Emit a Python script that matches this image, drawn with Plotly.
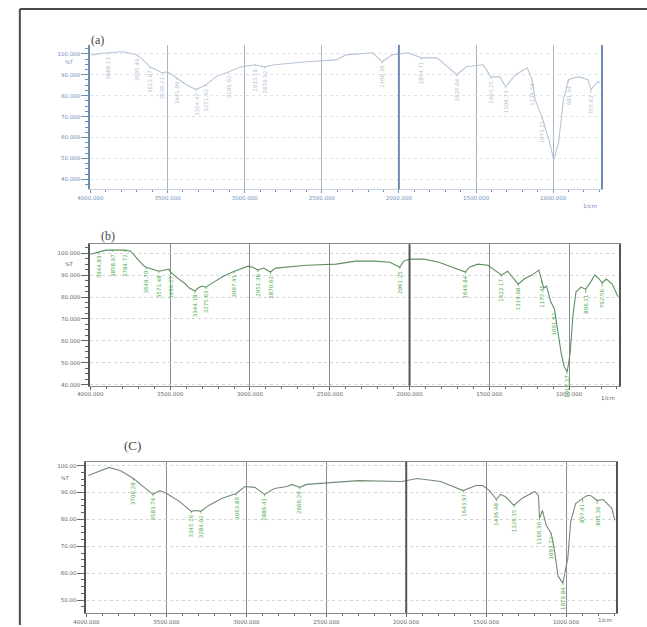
import plotly.graph_objects as go

# ---------------- data ----------------
wn_a = [3994, 3886, 3784, 3695, 3613, 3536, 3498, 3441, 3378, 3314, 3251, 3187, 3105, 3022, 2933, 2870,
        2806, 2597, 2406, 2343, 2171, 2108, 2044, 1943, 1854, 1752, 1625, 1562, 1454, 1403, 1346, 1308,
        1244, 1168, 1136, 1117, 1073, 1028, 996, 965, 933, 901, 863, 831, 774, 755, 711, 692]
t_a = [99.5, 100.5, 101.0, 99.5, 93.8, 91.0, 91.4, 88.6, 85.2, 82.9, 85.2, 89.0, 91.4, 93.8, 94.8, 93.8,
       94.8, 96.2, 97.1, 99.5, 100.5, 96.2, 99.5, 100.5, 98.1, 98.1, 90.0, 93.8, 94.8, 89.0, 89.0, 84.3,
       90.0, 93.3, 87.6, 78.1, 70.0, 59.0, 49.5, 57.6, 78.1, 87.6, 88.6, 89.0, 87.6, 82.9, 86.7, 86.2]

wn_b = [4000, 3945, 3902, 3859, 3822, 3785, 3748, 3712, 3669, 3650, 3613, 3571, 3534, 3509, 3497, 3454,
        3411, 3380, 3344, 3325, 3301, 3276, 3227, 3166, 3098, 3061, 3012, 2982, 2951, 2914, 2871, 2840,
        2767, 2644, 2460, 2337, 2215, 2123, 2061, 2037, 2000, 1908, 1816, 1724, 1650, 1626, 1571, 1509,
        1460, 1423, 1386, 1356, 1319, 1282, 1233, 1190, 1172, 1159, 1141, 1117, 1092, 1074, 1049, 1031,
        1012, 994, 975, 957, 926, 896, 865, 840, 816, 792, 767, 730, 693]
t_b = [99.5, 100.5, 101.4, 101.4, 101.4, 101.4, 100.9, 98.2, 94.5, 93.6, 92.7, 91.8, 92.3, 92.7, 91.4, 88.6,
       86.4, 84.1, 82.7, 84.1, 85.0, 84.5, 86.8, 89.5, 91.8, 92.7, 94.1, 93.6, 92.3, 93.2, 91.4, 93.2,
       93.6, 94.5, 95.0, 96.4, 96.4, 95.9, 93.6, 96.4, 97.3, 97.3, 95.9, 93.6, 91.4, 93.6, 95.0, 94.5,
       91.8, 90.0, 91.8, 89.1, 85.9, 88.2, 90.0, 92.3, 87.3, 84.1, 85.0, 78.2, 74.5, 65.5, 54.1, 48.2,
       45.9, 54.1, 72.3, 82.3, 84.5, 83.6, 86.8, 90.0, 88.6, 86.4, 88.2, 85.9, 80.0]

wn_c = [3988, 3927, 3859, 3786, 3706, 3645, 3584, 3541, 3498, 3419, 3345, 3315, 3284, 3235, 3155, 3064,
        3009, 2947, 2886, 2825, 2745, 2715, 2666, 2623, 2439, 2299, 2029, 1931, 1785, 1644, 1564, 1521,
        1479, 1436, 1411, 1381, 1326, 1277, 1197, 1173, 1166, 1148, 1124, 1093, 1075, 1050, 1020, 989,
        971, 940, 897, 867, 848, 805, 769, 714, 695]
t_c = [96.3, 97.8, 99.3, 98.1, 95.2, 92.2, 89.3, 90.7, 89.6, 86.7, 83.0, 83.3, 83.0, 85.2, 87.8, 89.6,
       92.2, 91.9, 89.3, 91.5, 92.2, 93.0, 91.9, 93.0, 93.7, 94.4, 94.1, 95.2, 94.1, 90.7, 92.6, 92.6,
       90.7, 87.4, 89.3, 88.5, 85.2, 87.8, 90.4, 88.9, 80.4, 83.3, 77.8, 74.8, 69.3, 58.9, 56.3, 65.6,
       79.3, 85.9, 87.8, 88.9, 88.9, 87.0, 87.4, 84.1, 79.6]

# peak labels (wavenumber, %T)
pk_wn_a = [3886.12, 3695.40, 3612.87, 3536.21, 3441.09, 3314.47, 3251.33, 3105.62, 2933.18, 2870.52,
           2108.36, 1854.71, 1625.04, 1403.25, 1308.73, 1136.58, 1073.21, 901.34, 755.63]
pk_t_a = [100.5, 99.5, 93.8, 91.0, 88.6, 82.9, 85.2, 91.4, 94.8, 93.8,
          96.2, 98.1, 90.0, 89.0, 84.3, 87.6, 70.0, 87.6, 82.9]

pk_wn_b = [3944.83, 3858.97, 3784.72, 3649.70, 3571.48, 3496.27, 3344.18, 3275.63, 3097.91, 2951.36,
           2870.62, 2061.25, 1649.84, 1423.17, 1319.08, 1172.45, 1091.92, 1012.37, 896.21, 792.56]
pk_t_b = [100.5, 101.4, 101.4, 93.6, 91.8, 91.4, 82.7, 84.5, 91.8, 92.3,
          91.4, 93.6, 91.4, 90.0, 85.9, 87.3, 74.5, 45.9, 83.6, 86.4]

pk_wn_c = [3706.28, 3583.74, 3345.16, 3284.02, 3063.89, 2886.41, 2666.20, 1643.97, 1436.48, 1326.15,
           1166.30, 1093.22, 1019.84, 897.41, 805.36]
pk_t_c = [95.2, 89.3, 83.0, 83.0, 89.6, 89.3, 91.9, 90.7, 87.4, 85.2,
          80.4, 74.8, 56.3, 87.8, 87.0]

x_ticks = [4000, 3500, 3000, 2500, 2000, 1500, 1000]
x_tick_text = ["4000.000", "3500.000", "3000.000", "2500.000", "2000.000", "1500.000", "1000.000"]
y_ticks_ab = [100, 90, 80, 70, 60, 50, 40]
y_ticks_c = [100, 90, 80, 70, 60, 50]
panel_titles = ["(a)", "(b)", "(C)"]

# ---------------- figure ----------------
W, H = 647, 627
fig = go.Figure()

panels = [
    dict(wn=wn_a, t=t_a, pw=pk_wn_a, pt=pk_t_a, xs="x", ys="y", xd=[79/W, 600/W], yd=[1-190/H, 1-45/H],
         yr=[35.2, 104.3], yt=y_ticks_ab, fmt="{:.3f}", pct=1-62/H, line="#b7c5d6", lab="#b4c2d2",
         grid="#a7b5c6", thick="#6c8db4", tick="#6f8fb8", hgrid="#dde4ec", top=False),
    dict(wn=wn_b, t=t_b, pw=pk_wn_b, pt=pk_t_b, xs="x2", ys="y2", xd=[79/W, 618/W], yd=[1-387/H, 1-245/H],
         yr=[39.5, 104.1], yt=y_ticks_ab, fmt="{:.3f}", pct=1-265/H, line="#5f8f5f", lab="#4fae4f",
         grid="#8a8a8a", thick="#555555", tick="#666666", hgrid="#d4d4d4", top=True),
    dict(wn=wn_c, t=t_c, pw=pk_wn_c, pt=pk_t_c, xs="x3", ys="y3", xd=[75/W, 615/W], yd=[1-615/H, 1-463/H],
         yr=[45.2, 101.5], yt=y_ticks_c, fmt="{:.2f}", pct=1-480/H, line="#758a75", lab="#4fae4f",
         grid="#8a8a8a", thick="#555555", tick="#666666", hgrid="#d4d4d4", top=True),
]

layout_axes = {}
for i, p in enumerate(panels):
    fig.add_trace(go.Scatter(x=p["wn"], y=p["t"], mode="lines", xaxis=p["xs"], yaxis=p["ys"],
                             line=dict(color=p["line"], width=1.1), showlegend=False, hoverinfo="skip"))
    xk = "xaxis" if i == 0 else f"xaxis{i+1}"
    yk = "yaxis" if i == 0 else f"yaxis{i+1}"
    layout_axes[xk] = dict(
        domain=p["xd"], anchor=p["ys"], range=[4000, 690], tickvals=x_ticks, ticktext=x_tick_text,
        showgrid=True, gridcolor=p["grid"], gridwidth=1, zeroline=False,
        showline=True, linecolor=p["grid"] if p["top"] else "#c5d0dc", linewidth=1, mirror=p["top"],
        ticks="outside", ticklen=3, tickcolor=p["tick"],
        tickfont=dict(size=5.5, color=p["tick"], family="DejaVu Sans"),
        minor=dict(dtick=100, ticks="outside", ticklen=2, tickcolor=p["tick"], showgrid=False),
    )
    layout_axes[yk] = dict(
        domain=p["yd"], anchor=p["xs"], range=p["yr"], tickvals=p["yt"],
        ticktext=[p["fmt"].format(v) for v in p["yt"]],
        showgrid=True, gridcolor=p["hgrid"], griddash="dot", gridwidth=1, zeroline=False,
        showline=True, linecolor=p["thick"], linewidth=2, mirror=True,
        ticks="outside", ticklen=7, tickcolor=p["tick"],
        tickfont=dict(size=5.5, color=p["tick"], family="DejaVu Sans"),
        minor=dict(dtick=2.5, ticks="outside", ticklen=3, tickcolor=p["tick"], showgrid=False),
    )
    # thick separator at 2000 cm-1
    fig.add_shape(type="line", xref=p["xs"], yref=f"{p['ys']} domain", x0=2000, x1=2000, y0=0, y1=1,
                  line=dict(color=p["thick"], width=2))
    # %T label
    fig.add_annotation(xref="paper", yref="paper", x=p["xd"][0] - 15/W, y=p["pct"],
                       text="%T", showarrow=False, xanchor="right", yanchor="middle",
                       font=dict(size=5, color=p["tick"], family="DejaVu Sans"))
    # 1/cm label
    fig.add_annotation(xref="paper", yref="paper", x=p["xd"][1] - 2/W, y=p["yd"][0] - 12/H,
                       text="1/cm", showarrow=False, xanchor="right",
                       font=dict(size=5.5, color=p["tick"], family="DejaVu Sans"))
    # panel title
    fig.add_annotation(xref="paper", yref="paper",
                       x=[78/W, 88/W, 111/W][i], y=[1-31/H, 1-237/H, 1-456/H][i],
                       text=panel_titles[i], showarrow=False,
                       font=dict(size=[12, 12, 13][i], color="#444444", family="Liberation Serif"))
    # peak labels
    for w_, t_ in zip(p["pw"], p["pt"]):
        fig.add_annotation(xref=p["xs"], yref=p["ys"], x=w_, y=t_, text=f"{w_:.2f}",
                           showarrow=True, arrowhead=0, arrowwidth=0.8, arrowcolor=p["lab"],
                           ax=0, ay=15, textangle=-90,
                           font=dict(size=5.5, color=p["lab"], family="DejaVu Sans"))

# outer frame (top and left)
fig.add_shape(type="line", xref="paper", yref="paper", x0=7/W, x1=1, y0=1-9/H, y1=1-9/H,
              line=dict(color="#4a4a4a", width=2))
fig.add_shape(type="line", xref="paper", yref="paper", x0=7/W, x1=7/W, y0=0, y1=1-9/H,
              line=dict(color="#4a4a4a", width=2))

fig.update_layout(width=W, height=H, margin=dict(l=0, r=0, t=0, b=0),
                  paper_bgcolor="white", plot_bgcolor="white", showlegend=False, **layout_axes)

fig.write_html("out.html", config={"displayModeBar": False},
               post_script="document.body.style.margin='0';document.body.style.overflow='hidden';")
